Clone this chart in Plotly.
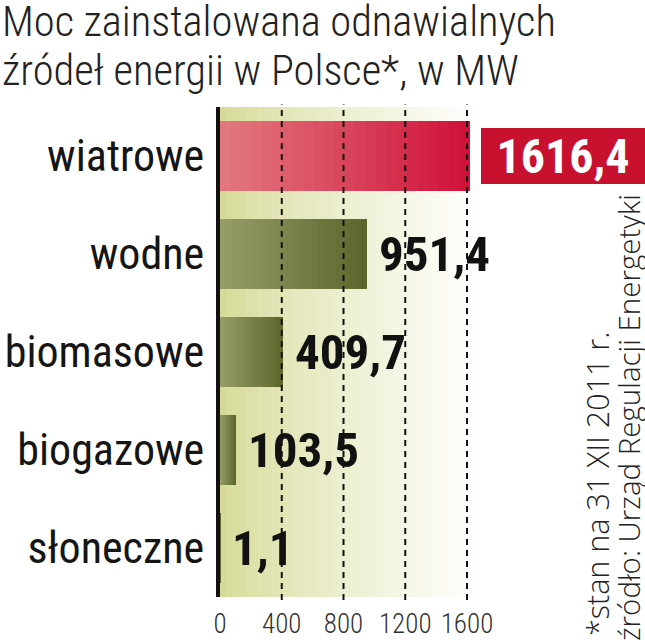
import plotly.graph_objects as go

categories = ["wiatrowe", "wodne", "biomasowe", "biogazowe", "słoneczne"]
values = [1616.4, 951.4, 409.7, 103.5, 1.1]
value_labels = ["1616,4", "951,4", "409,7", "103,5", "1,1"]
tick_vals = [0, 400, 800, 1200, 1600]
tick_text = ["0", "400", "800", "1200", "1600"]
highlight = [True, False, False, False, False]

title_lines = ["Moc zainstalowana odnawialnych", "źródeł energii w Polsce*, w MW"]
note_text = "*stan na 31 XII 2011 r."
source_text = "źródło: Urząd Regulacji Energetyki"

X_MAX = 2753
N_SEG = 24
COND = "Roboto Condensed, Roboto, sans-serif"

# plot area in pixels (for placing paper-referenced texts)
PL, PR, PT, PB = 220, 645, 107, 597


def px_x(px):
    return (px - PL) / (PR - PL)


def px_y(py):
    return (PB - py) / (PB - PT)


def lerp(c1, c2, t):
    return "rgb(%d,%d,%d)" % tuple(round(a + (b - a) * t) for a, b in zip(c1, c2))


RED_L, RED_R = (226, 120, 126), (208, 18, 58)
OLV_L, OLV_R = (150, 156, 104), (92, 102, 44)
BG_L, BG_R = (214, 218, 150), (255, 255, 255)

fig = go.Figure()

# gradient bars: overlapping segments, each from a fraction of the value to the end
for k in range(N_SEG):
    t = k / (N_SEG - 1)
    colors = [lerp(RED_L, RED_R, t) if h else lerp(OLV_L, OLV_R, t) for h in highlight]
    fig.add_trace(go.Bar(
        y=categories,
        x=[v * (1 - k / N_SEG) for v in values],
        base=[v * k / N_SEG for v in values],
        orientation="h",
        marker=dict(color=colors, line=dict(width=0)),
        width=0.72,
        showlegend=False,
        hoverinfo="skip",
    ))

shapes = []
# background gradient
NB = 40
BG_END = 1700
for i in range(NB):
    t = i / (NB - 1)
    shapes.append(dict(
        type="rect", xref="x", yref="paper",
        x0=BG_END * i / NB, x1=BG_END * (i + 1) / NB + 2, y0=0, y1=1,
        fillcolor=lerp(BG_L, BG_R, t ** 0.8), line=dict(width=0), layer="below",
    ))
# dashed grid lines above bars
for tv in tick_vals[1:]:
    shapes.append(dict(
        type="line", xref="x", yref="paper", x0=tv, x1=tv, y0=-0.006, y1=1.005,
        line=dict(color="#111", width=2, dash="6px,5px"), layer="above",
    ))

annotations = []
for cat, v, lab, h in zip(categories, values, value_labels, highlight):
    if h:
        annotations.append(dict(
            x=v, y=cat, xref="x", yref="y", text=lab, showarrow=False,
            xanchor="left", yanchor="middle", xshift=11,
            font=dict(family=COND, size=48, color="white", weight="bold"),
            bgcolor="#c8102f", bordercolor="#c8102f", borderwidth=1, borderpad=0,
            width=162, height=54,
        ))
    else:
        annotations.append(dict(
            x=v, y=cat, xref="x", yref="y", text=lab, showarrow=False,
            xanchor="left", yanchor="middle", xshift=10,
            font=dict(family=COND, size=49, color="#111", weight="bold"),
        ))

# title lines
for line, cy in zip(title_lines, [22, 70]):
    annotations.append(dict(
        text=line, xref="paper", yref="paper", x=px_x(0), y=px_y(cy),
        xanchor="left", yanchor="middle", showarrow=False,
        font=dict(family=COND, size=42.5, color="#222", weight=300),
    ))

annotations.append(dict(
    text=note_text, xref="paper", yref="paper", x=px_x(597), y=px_y(484),
    xanchor="center", yanchor="middle", textangle=-90, showarrow=False,
    font=dict(family="Open Sans, Roboto", size=30.5, color="#222", weight=300),
))
annotations.append(dict(
    text=source_text, xref="paper", yref="paper", x=px_x(628), y=px_y(418),
    xanchor="center", yanchor="middle", textangle=-90, showarrow=False,
    font=dict(family="Open Sans, Roboto", size=29.5, color="#222", weight=300),
))

fig.update_layout(
    width=645, height=640,
    margin=dict(l=PL, r=645 - PR, t=PT, b=640 - PB, autoexpand=False),
    paper_bgcolor="white", plot_bgcolor="white",
    barmode="overlay",
    bargap=0,
    xaxis=dict(
        range=[0, X_MAX], tickmode="array", tickvals=tick_vals, ticktext=tick_text,
        showgrid=False, zeroline=False, showline=False, ticks="",
        tickfont=dict(family=COND, size=27, color="#333", weight=300),
        ticklabelstandoff=8, automargin=False,
    ),
    yaxis=dict(
        categoryorder="array", categoryarray=categories, range=[4.5, -0.5],
        showgrid=False, zeroline=False, showline=True, linecolor="#111", linewidth=4,
        layer="above traces", ticks="",
        tickfont=dict(family=COND, size=44, color="#151515", weight=400),
        ticklabelstandoff=3, automargin=False,
    ),
    shapes=shapes,
    annotations=annotations,
)

fig.write_html(
    "out.html",
    config={"displayModeBar": False},
    post_script="document.body.style.margin='0';document.body.style.overflow='hidden';",
)
